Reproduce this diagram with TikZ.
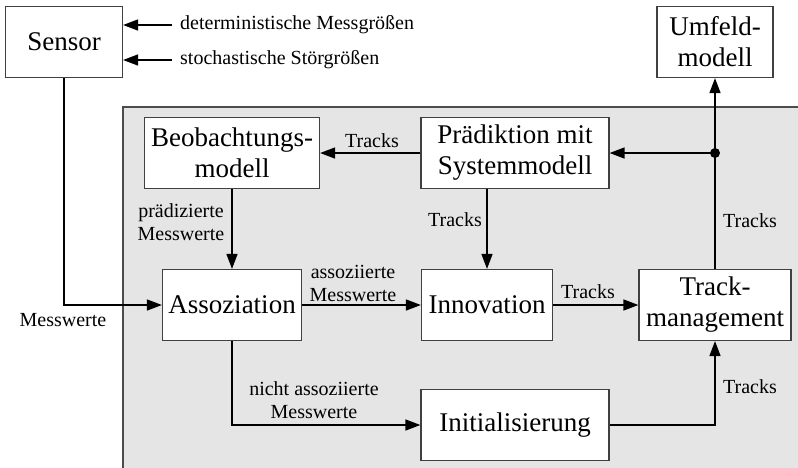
\documentclass[tikz,border=0pt]{standalone}
\usepackage{fontspec}
\setmainfont{Liberation Serif}
\usetikzlibrary{arrows.meta}
\tikzset{
	block/.style={draw=black!75,fill=white,line width=1.2pt,align=center,inner sep=0pt,minimum height=71pt,font=\fontsize{27}{31}\selectfont},
	lbl/.style={font=\fontsize{20}{23}\selectfont,align=center,inner sep=0pt},
	flow/.style={line width=1.5pt,-{Triangle[length=15pt,width=11pt]}},
}

\begin{document}
\begin{tikzpicture}[x=1pt,y=-1pt]
		\useasboundingbox (0,0) rectangle (798,467);
		\draw[fill=black!10,draw=black!70,line width=1.2pt] (123,107) rectangle (805,475);
		\node[block,minimum width=117pt] (sensor) at (64,42) {Sensor};
		\node[block,minimum width=116pt] (umfeld) at (715,42) {Umfeld-\\modell};
		\node[block,minimum width=175pt] (beob) at (232,153) {Beobachtungs-\\modell};
		\node[block,minimum width=188pt] (praed) at (515,153) {Prädiktion mit\\Systemmodell};
		\node[block,minimum width=139pt] (asso) at (232,305) {Assoziation};
		\node[block,minimum width=131pt] (innov) at (487,305) {Innovation};
		\node[block,minimum width=152pt] (trackm) at (715,305) {Track-\\management};
		\node[block,minimum width=188pt] (init) at (515,425) {Initialisierung};
		\coordinate (split) at (715,153);
		\node[lbl,anchor=west] (det) at (180,25) {deterministische Messgrößen};
		\node[lbl,anchor=west] (sto) at (180,60) {stochastische Störgrößen};
		\node[lbl] (lmess) at (63,320) {Messwerte};
		\node[lbl] (lpraed) at (181,222) {prädizierte\\Messwerte};
		\node[lbl] (lbeob) at (372,141) {Tracks};
		\node[lbl] (linnov) at (455,220) {Tracks};
		\node[lbl] (lasso) at (353,283) {assoziierte\\Messwerte};
		\node[lbl] (lnicht) at (314,400) {nicht assoziierte\\Messwerte};
		\node[lbl] (ltm) at (588,292) {Tracks};
		\node[lbl] (lup) at (750,221) {Tracks};
		\node[lbl] (linit) at (750,387) {Tracks};
		\draw[flow] ([xshift=-8pt]det.west) -- (det.west -| sensor.east);
		\draw[flow] ([xshift=-8pt]sto.west) -- (sto.west -| sensor.east);
		\draw[flow] (sensor.south) |- (asso.west);
		\draw[flow] (praed.west) -- (beob.east);
		\draw[flow] (beob.south) -- (asso.north);
		\draw[flow] (asso.east) -- (innov.west);
		\draw[flow] (innov.north |- praed.south) -- (innov.north);
		\draw[flow] (innov.east) -- (trackm.west);
		\draw[flow] (asso.south) |- (init.west);
		\draw[flow] (init.east) -| (trackm.south);
		\draw[line width=1.5pt] (trackm.north) -- (split);
		\draw[flow] (split) -- (umfeld.south);
		\draw[flow] (split) -- (praed.east);
		\fill (split) circle (5pt);
	\end{tikzpicture}
\end{document}
